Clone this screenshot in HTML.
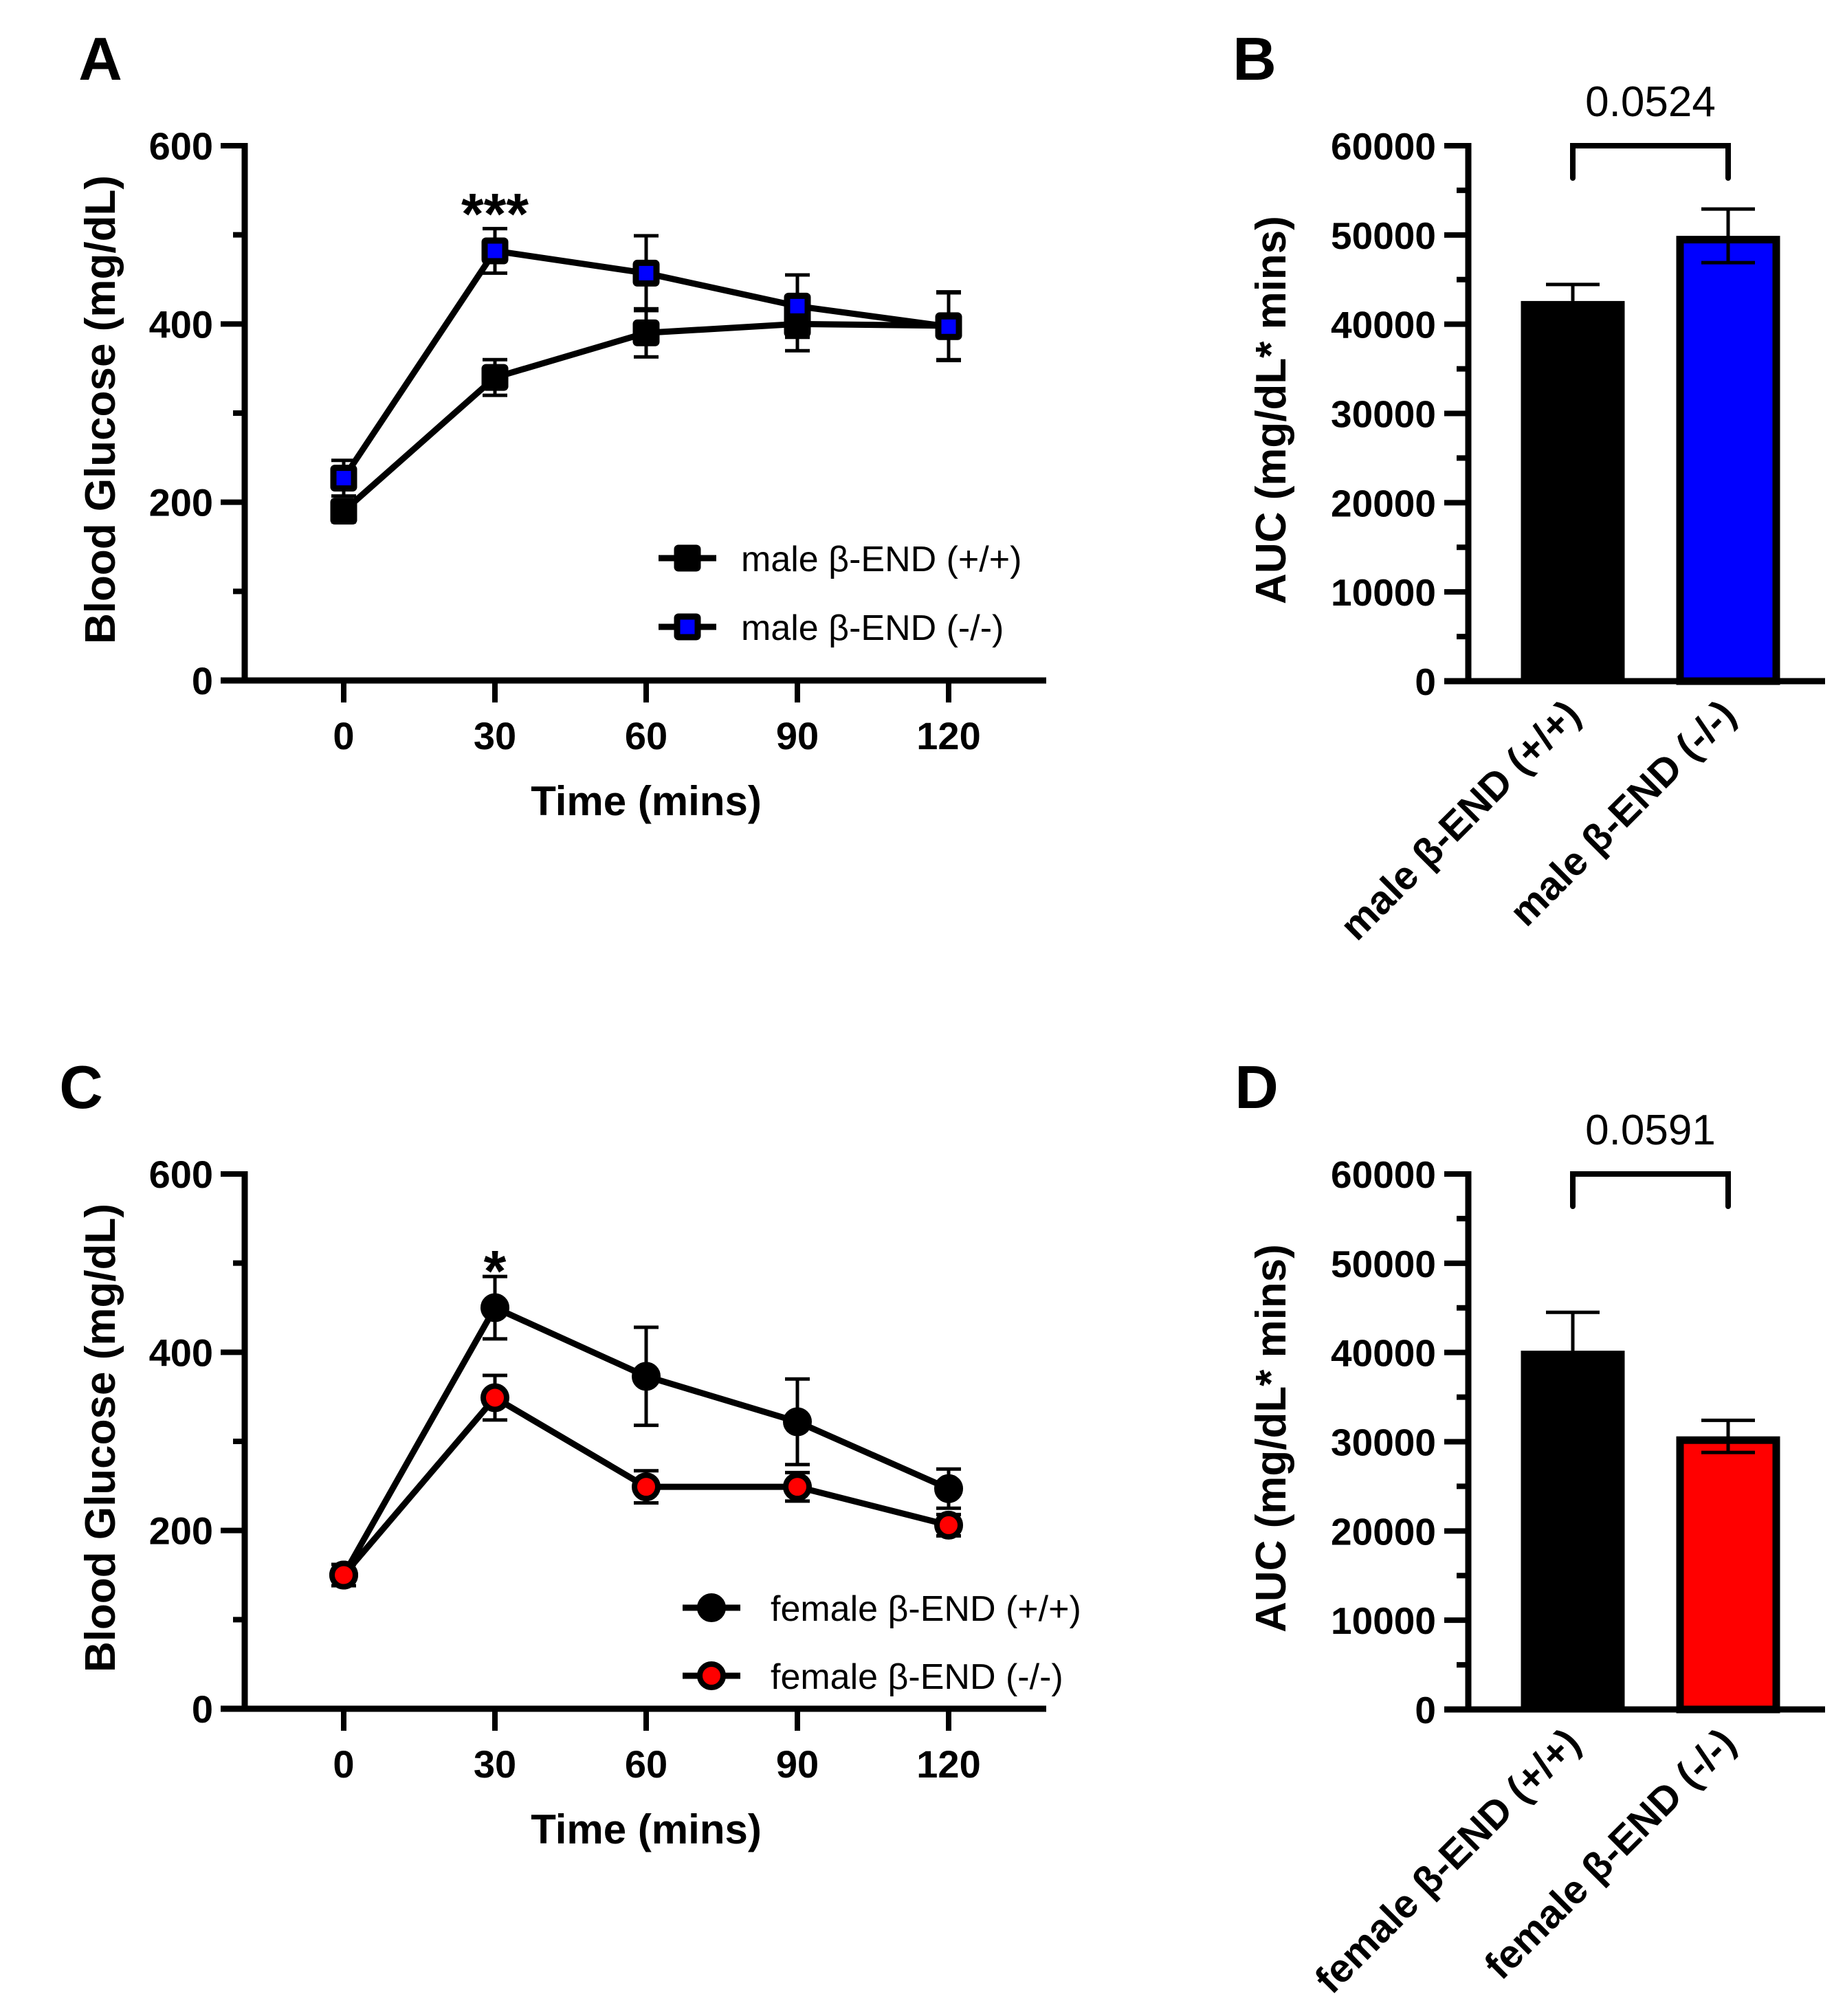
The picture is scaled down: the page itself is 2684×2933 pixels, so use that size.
<!DOCTYPE html>
<html><head><meta charset="utf-8"><style>
html,body{margin:0;padding:0;background:#fff}
svg{display:block}
text{font-family:"Liberation Sans",Arial,sans-serif}
</style></head><body>
<svg id="fig" width="2684" height="2933" viewBox="0 0 2684 2933" xmlns="http://www.w3.org/2000/svg"></svg>
<script>
const timeCats=[0,30,60,90,120];
const maleWT=[190,340,390,400,398];
const maleWTErr=[12,20,27,30,38];
const maleKO=[227,482,457,420,397];
const maleKOErr=[20,25,42,35,38];
const femWT=[150,450,373,322,247];
const femWTErr=[12,35,55,48,22];
const femKO=[150,349,249,249,206];
const femKOErr=[12,25,18,16,12];
const yTicksLine=[0,200,400,600];
const yTicksBar=[0,10000,20000,30000,40000,50000,60000];
const aucMale=[42600,49900];
const aucMaleErr=[1850,3000];
const aucFem=[40200,30600];
const aucFemErr=[4300,1800];
const malePval="0.0524";
const femPval="0.0591";

const svg=document.getElementById('fig');
const NS='http://www.w3.org/2000/svg';
function el(tag,attrs,parent,txt){const e=document.createElementNS(NS,tag);for(const k in attrs)e.setAttribute(k,attrs[k]);if(txt!==undefined)e.textContent=txt;(parent||svg).appendChild(e);return e;}

function panelLabel(t,x,y){const e=el('text',{x:x,y:y,'font-size':88,'font-weight':'bold','text-anchor':'middle'},svg,t);

}

function lineChart(oy,s1,e1,s2,e2,kind,color,legendNames,star,legX,legTextX,legY,tag){
  const g=el('g',{},svg);
  
  
  const ax=356, y0=990+oy, yTop=212+oy;
  const X=t=>500+(t/30)*220;
  const Y=v=>y0-(v/600)*(y0-yTop);
  const axes=el('g',{},g);
  
  
  el('line',{x1:ax,y1:yTop-4,x2:ax,y2:y0+4,stroke:'#000','stroke-width':9},axes);
  el('line',{x1:ax-35,y1:y0,x2:1522,y2:y0,stroke:'#000','stroke-width':9},axes);
  for(let v=0;v<=600;v+=100){const major=v%200===0;
    el('line',{x1:ax-(major?35:17),y1:Y(v),x2:ax,y2:Y(v),stroke:'#000','stroke-width':8},axes);}
  yTicksLine.forEach(v=>{const t=el('text',{x:310,y:Y(v)+20,'font-size':56,'font-weight':'bold','text-anchor':'end'},axes,v);
    
    });
  timeCats.forEach(c=>{el('line',{x1:X(c),y1:y0,x2:X(c),y2:y0+32,stroke:'#000','stroke-width':8},axes);
    const t=el('text',{x:X(c),y:y0+100,'font-size':56,'font-weight':'bold','text-anchor':'middle'},axes,c);
    
    });
  const xt=el('text',{x:940,y:y0+196,'font-size':60,'font-weight':'bold','text-anchor':'middle'},g,'Time (mins)');
  
  
  const cy=(y0+yTop)/2;
  const yt=el('text',{x:0,y:0,'font-size':62,'font-weight':'bold','text-anchor':'middle',transform:`translate(167,${cy-5}) rotate(-90)`},g,'Blood Glucose (mg/dL)');
  
  
  function series(vals,errs,fill,name){
    const sg=el('g',{},g);
    
    
    el('polyline',{points:timeCats.map((c,i)=>X(c)+','+Y(vals[i])).join(' '),fill:'none',stroke:'#000','stroke-width':9,'stroke-linejoin':'round'},sg);
    timeCats.forEach((c,i)=>{const x=X(c);
      el('line',{x1:x,y1:Y(vals[i]-errs[i]),x2:x,y2:Y(vals[i]+errs[i]),stroke:'#000','stroke-width':5},sg);
      [vals[i]-errs[i],vals[i]+errs[i]].forEach(v=>el('line',{x1:x-18,y1:Y(v),x2:x+18,y2:Y(v),stroke:'#000','stroke-width':5},sg));
      let m;
      if(kind==='square') m=el('rect',{x:x-15,y:Y(vals[i])-15,width:30,height:30,fill:fill,stroke:'#000','stroke-width':9,rx:2},sg);
      else m=el('circle',{cx:x,cy:Y(vals[i]),r:17,fill:fill,stroke:'#000','stroke-width':8},sg);
      
      
    });
  }
  series(s1,e1,'#000','series-wt');
  series(s2,e2,color,'series-ko');
  const st=el('text',{x:X(30),y:star.y+oy,'font-size':84,'font-weight':'bold','text-anchor':'middle'},g,star.t);
  
  
  const lg=el('g',{},g);
  
  
  [[legY[0],'#000'],[legY[1],color]].forEach((r,i)=>{const y=r[0]+oy;
    const en=el('g',{},lg);
    
    
    el('line',{x1:legX-42,y1:y,x2:legX+42,y2:y,stroke:'#000','stroke-width':9},en);
    if(kind==='square') el('rect',{x:legX-15,y:y-15,width:30,height:30,fill:r[1],stroke:'#000','stroke-width':9,rx:2},en);
    else el('circle',{cx:legX,cy:y,r:17,fill:r[1],stroke:'#000','stroke-width':8},en);
    el('text',{x:legTextX,y:y+19,'font-size':52},en,legendNames[i]);
  });
}

function barChart(oy,vals,errs,color,cats,pval,tag){
  const g=el('g',{},svg);
  
  
  const ax=2136, y0=991+oy, yTop=212+oy;
  const Y=v=>y0-(v/60000)*(y0-yTop);
  const centers=[2288,2514], bw=151;
  const axes=el('g',{},g);
  
  
  el('line',{x1:ax,y1:yTop-4,x2:ax,y2:y0+4,stroke:'#000','stroke-width':9},axes);
  el('line',{x1:ax-35,y1:y0,x2:2655,y2:y0,stroke:'#000','stroke-width':9},axes);
  for(let v=0;v<=60000;v+=5000){const major=v%10000===0;
    el('line',{x1:ax-(major?35:17),y1:Y(v),x2:ax,y2:Y(v),stroke:'#000','stroke-width':8},axes);}
  yTicksBar.forEach(v=>{const t=el('text',{x:2089,y:Y(v)+20,'font-size':55,'font-weight':'bold','text-anchor':'end'},axes,v);
    
    });
  const cy=(y0+yTop)/2;
  const yt=el('text',{x:0,y:0,'font-size':62,'font-weight':'bold','text-anchor':'middle',transform:`translate(1870,${cy-5}) rotate(-90)`},g,'AUC (mg/dL* mins)');
  
  
  vals.forEach((v,i)=>{const c=centers[i];
    const b=el('rect',{x:c-bw/2+ (i?5.5:0),y:Y(v)+(i?5.5:0),width:bw-(i?11:0),height:y0-Y(v)-(i?5.5:0),fill:i?color:'#000',stroke:i?'#000':'none','stroke-width':i?11:0},g);
    
    
    const lo=i?v-errs[i]:v, hi=v+errs[i];
    el('line',{x1:c,y1:Y(lo),x2:c,y2:Y(hi),stroke:'#000','stroke-width':5},g);
    el('line',{x1:c-39,y1:Y(hi),x2:c+39,y2:Y(hi),stroke:'#000','stroke-width':5},g);
    if(i) el('line',{x1:c-39,y1:Y(lo),x2:c+39,y2:Y(lo),stroke:'#000','stroke-width':5},g);
    const t=el('text',{x:0,y:0,'font-size':58,'font-weight':'bold','text-anchor':'end',transform:`translate(${c+14},${y0+52}) rotate(-45)`},g,cats[i]);
    
    
  });
  const br=el('polyline',{points:`${centers[0]},${yTop+47} ${centers[0]},${yTop} ${centers[1]},${yTop} ${centers[1]},${yTop+47}`,fill:'none',stroke:'#000','stroke-width':8,'stroke-linecap':'round'},g);
  
  
  const p=el('text',{x:2401,y:yTop-43,'font-size':62,'text-anchor':'middle'},g,pval);
  
  
}

panelLabel('A',146,116);
panelLabel('B',1825,116);
panelLabel('C',118,1612);
panelLabel('D',1828,1612);
lineChart(0,maleWT,maleWTErr,maleKO,maleKOErr,'square','#0000ff',['male β-END (+/+)','male β-END (-/-)'],{t:'***',y:340},1000,1078,[812,912],'male');
lineChart(1496,femWT,femWTErr,femKO,femKOErr,'circle','#ff0000',['female β-END (+/+)','female β-END (-/-)'],{t:'*',y:382},1035,1121,[843,942],'female');
barChart(0,aucMale,aucMaleErr,'#0000ff',['male β-END (+/+)','male β-END (-/-)'],malePval,'male');
barChart(1496,aucFem,aucFemErr,'#ff0000',['female β-END (+/+)','female β-END (-/-)'],femPval,'female');
</script>
</body></html>
